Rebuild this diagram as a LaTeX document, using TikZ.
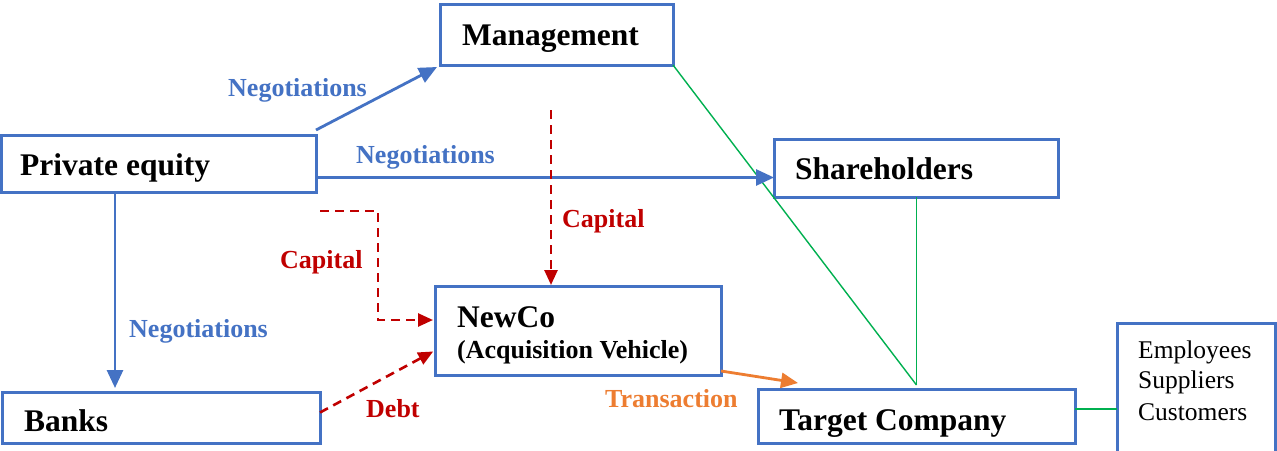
\documentclass[tikz,border=0pt]{standalone}
\usepackage{fontspec}
\setmainfont{Liberation Serif}
\usetikzlibrary{arrows.meta,calc}
\definecolor{offblue}{HTML}{4472C4}
\definecolor{offred}{HTML}{C00000}
\definecolor{offorange}{HTML}{ED7D31}
\definecolor{offgreen}{HTML}{00B050}
\begin{document}
\begin{tikzpicture}[x=1pt,y=-1pt,
  box/.style={draw=offblue,line width=3pt,fill=white,inner sep=0pt,outer sep=0pt,anchor=north west},
  boxtext/.style={anchor=base west,inner sep=0pt,font=\fontsize{31.5}{36}\selectfont\bfseries},
  subtext/.style={anchor=base west,inner sep=0pt,font=\fontsize{26}{30}\selectfont\bfseries},
  listtext/.style={anchor=base west,inner sep=0pt,font=\fontsize{25.5}{30}\selectfont},
  lbl/.style={anchor=base west,inner sep=0pt,font=\fontsize{26}{30}\selectfont\bfseries},
  bluearrow/.style={draw=offblue,line width=2.8pt,-{Triangle[length=18pt,width=16pt]}},
  redarrow/.style={draw=offred,line width=2.6pt,dash pattern=on 9pt off 6pt,-{Triangle[length=15pt,width=13pt]}},
  orangearrow/.style={draw=offorange,line width=2.8pt,-{Triangle[length=17pt,width=15pt]}},
  greenline/.style={draw=offgreen,line width=1.4pt}]
\useasboundingbox (0,0) rectangle (1277,450);
\clip (0,0) rectangle (1277,450);
\fill[white] (0,0) rectangle (1277,450);

% boxes
\node[box,minimum width=233pt,minimum height=61pt] (mgmt) at (440,4) {};
\node[box,minimum width=315pt,minimum height=57pt] (pe) at (1,135) {};
\node[box,minimum width=284pt,minimum height=58pt] (sh) at (774,139) {};
\node[box,minimum width=286pt,minimum height=89pt] (newco) at (435,286) {};
\node[box,minimum width=318pt,minimum height=51pt] (banks) at (2,392) {};
\node[box,minimum width=317pt,minimum height=54pt] (target) at (758,389) {};
\node[box,minimum width=158pt,minimum height=140pt] (stake) at (1117,323) {};

% box texts
\node[boxtext] (tmgmt) at (462,45) {Management};
\node[boxtext] (tpe) at (20,175) {Private equity};
\node[boxtext] (tsh) at (795,179) {Shareholders};
\node[boxtext] (tnewco) at (457,327) {NewCo};
\node[subtext] (tacq) at (457,358) {(Acquisition Vehicle)};
\node[boxtext] (tbanks) at (24,431) {Banks};
\node[boxtext] (ttarget) at (779,430) {Target Company};
\node[listtext] (temp) at (1138,358) {Employees};
\node[listtext] (tsup) at (1138,388) {Suppliers};
\node[listtext] (tcus) at (1138,420) {Customers};

% green links
\coordinate (junc) at ([yshift=4pt]target.north);
\draw[greenline] (mgmt.south east) -- (junc);
\draw[greenline] (junc |- sh.south) -- (junc);
\draw[greenline] ([yshift=7pt]target.east) -- ([yshift=7pt]target.east -| stake.west);

% blue negotiations
\draw[bluearrow] ([yshift=5pt]pe.north east) -- ([xshift=-3pt,yshift=-2pt]mgmt.south west);
\draw[bluearrow] ([yshift=-14pt]pe.east) -- ([yshift=-14pt]pe.east -| sh.west);
\draw[bluearrow,shorten >=4pt] ([xshift=114pt]pe.south west) -- ([xshift=114pt]pe.south west |- banks.north);
\node[lbl,text=offblue] (n1) at (228,96) {Negotiations};
\node[lbl,text=offblue] (n2) at (356,163) {Negotiations};
\node[lbl,text=offblue] (n3) at (129,337) {Negotiations};

% red capital / debt
\coordinate (capA) at (320,211);
\coordinate (capB) at (551,110);
\draw[redarrow,shorten >=2pt] (capA) -| ([xshift=-57pt,yshift=10.5pt]newco.west) -- ([yshift=10.5pt]newco.west);
\draw[redarrow,shorten >=1pt] (capB) -- (capB |- newco.north);
\draw[redarrow,shorten >=2pt] ([yshift=5pt]banks.east) -- ([yshift=-20pt]newco.west);
\node[lbl,text=offred] (c1) at (562,227) {Capital};
\node[lbl,text=offred] (c2) at (280,268) {Capital};
\node[lbl,text=offred] (debt) at (366,417) {Debt};

% orange transaction
\draw[orangearrow] ([yshift=4pt]newco.south east) -- ([xshift=40pt,yshift=6pt]target.north west);
\node[lbl,text=offorange] (trans) at (605,407) {Transaction};
\end{tikzpicture}
\end{document}
